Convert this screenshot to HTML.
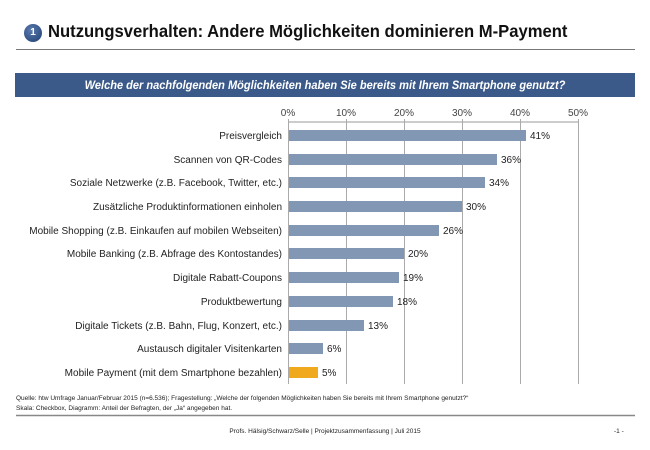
<!DOCTYPE html>
<html><head><meta charset="utf-8"><style>
body{margin:0;width:650px;height:450px;background:#fff;position:relative;overflow:hidden;font-family:"Liberation Sans",sans-serif;}
.a{position:absolute;}
</style></head><body>
<div class="a" style="left:24px;top:24px;width:18px;height:18px;border-radius:50%;background:radial-gradient(circle at 40% 35%,#5a7bb0,#1f3d6e);color:#fff;font-size:10px;font-weight:bold;text-align:center;line-height:18px;">1</div>
<div class="a" style="left:48px;top:21px;font-size:17.5px;font-weight:bold;color:#111;white-space:nowrap;transform:scaleX(0.95);transform-origin:0 0;">Nutzungsverhalten: Andere Möglichkeiten dominieren M-Payment</div>
<div class="a" style="left:16px;top:49px;width:619px;height:1px;background:#777;"></div>
<div class="a" style="left:15px;top:73px;width:620px;height:24px;background:#3b5a8a;"></div>
<div class="a" style="left:15px;top:73px;width:620px;height:24px;color:#fff;font-size:12px;font-weight:bold;font-style:italic;text-align:center;line-height:24px;transform:scaleX(0.92);transform-origin:50% 0;white-space:nowrap;">Welche der nachfolgenden Möglichkeiten haben Sie bereits mit Ihrem Smartphone genutzt?</div>
<svg class="a" style="left:0;top:0" width="650" height="450" font-family="Liberation Sans,sans-serif">
<g font-size="10" fill="#444" text-anchor="middle">
<text x="288" y="116">0%</text><text x="346" y="116">10%</text><text x="404" y="116">20%</text><text x="462" y="116">30%</text><text x="520" y="116">40%</text><text x="578" y="116">50%</text>
</g>
<line x1="288" y1="122" x2="578" y2="122" stroke="#999"/>
<g stroke="#aaa" stroke-width="1">
<line x1="288.5" y1="119" x2="288.5" y2="384"/><line x1="346.5" y1="119" x2="346.5" y2="384"/><line x1="404.5" y1="119" x2="404.5" y2="384"/><line x1="462.5" y1="119" x2="462.5" y2="384"/><line x1="520.5" y1="119" x2="520.5" y2="384"/><line x1="578.5" y1="119" x2="578.5" y2="384"/>
</g>
<g font-size="10" fill="#222">
<g text-anchor="end">
<text x="282" y="139">Preisvergleich</text>
<text x="282" y="163">Scannen von QR-Codes</text>
<text x="282" y="186">Soziale Netzwerke (z.B. Facebook, Twitter, etc.)</text>
<text x="282" y="210">Zusätzliche Produktinformationen einholen</text>
<text x="282" y="234">Mobile Shopping (z.B. Einkaufen auf mobilen Webseiten)</text>
<text x="282" y="257">Mobile Banking (z.B. Abfrage des Kontostandes)</text>
<text x="282" y="281">Digitale Rabatt-Coupons</text>
<text x="282" y="305">Produktbewertung</text>
<text x="282" y="329">Digitale Tickets (z.B. Bahn, Flug, Konzert, etc.)</text>
<text x="282" y="352">Austausch digitaler Visitenkarten</text>
<text x="282" y="376">Mobile Payment (mit dem Smartphone bezahlen)</text>
</g>
<g fill="#8197b4">
<rect x="289" y="130" width="237" height="11"/>
<rect x="289" y="154" width="208" height="11"/>
<rect x="289" y="177" width="196" height="11"/>
<rect x="289" y="201" width="173" height="11"/>
<rect x="289" y="225" width="150" height="11"/>
<rect x="289" y="248" width="115" height="11"/>
<rect x="289" y="272" width="110" height="11"/>
<rect x="289" y="296" width="104" height="11"/>
<rect x="289" y="320" width="75" height="11"/>
<rect x="289" y="343" width="34" height="11"/>
<rect x="289" y="367" width="29" height="11" fill="#f0a81c"/>
</g>
<text x="530" y="139">41%</text><text x="501" y="163">36%</text><text x="489" y="186">34%</text><text x="466" y="210">30%</text><text x="443" y="234">26%</text><text x="408" y="257">20%</text><text x="403" y="281">19%</text><text x="397" y="305">18%</text><text x="368" y="329">13%</text><text x="327" y="352">6%</text><text x="322" y="376">5%</text>
</g>
<g font-size="6.5" fill="#222">
<text x="16" y="400">Quelle: htw Umfrage Januar/Februar 2015 (n=6.536); Fragestellung: „Welche der folgenden Möglichkeiten haben Sie bereits mit Ihrem Smartphone genutzt?“</text>
<text x="16" y="410">Skala: Checkbox, Diagramm: Anteil der Befragten, der „Ja“ angegeben hat.</text>
<text x="325" y="433" text-anchor="middle">Profs. Hälsig/Schwarz/Selle | Projektzusammenfassung | Juli 2015</text>
<text x="614" y="433">-1 -</text>
</g>
<line x1="16" y1="415.5" x2="635" y2="415.5" stroke="#888" stroke-width="1.5"/>
</svg>
</body></html>
